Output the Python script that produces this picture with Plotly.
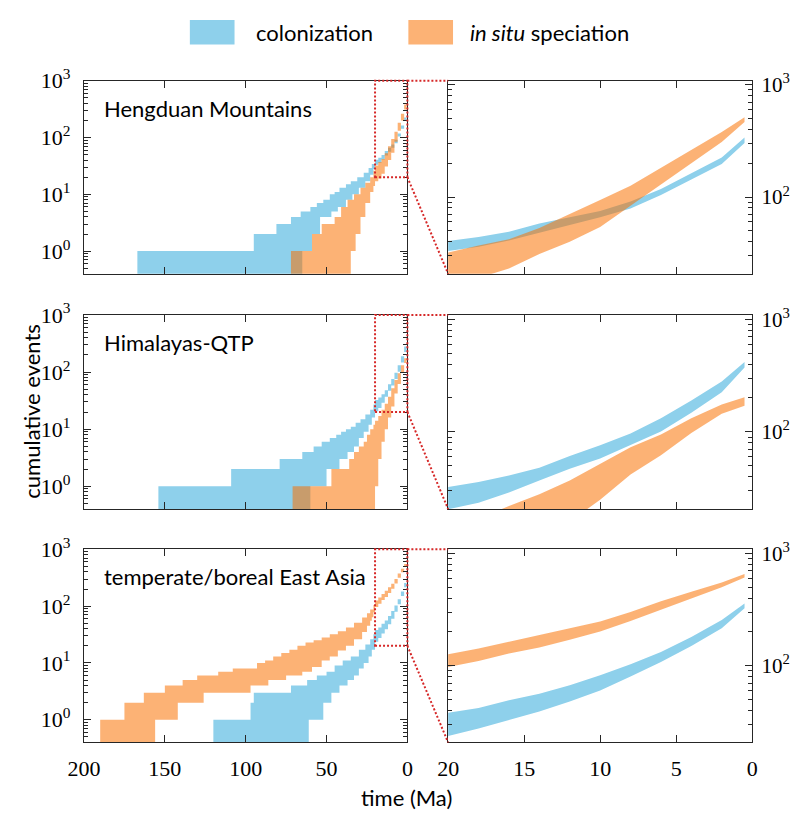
import math
import plotly.graph_objs as go

# cumulative event counts (lower / upper edge of each band), time in Ma
# 0 = no event yet
HD_COL_LO_T = [200, 65, 59, 54, 47, 43, 38, 34, 30, 26, 23, 21, 20, 18, 16, 14, 12, 10, 8, 6, 4, 2, 0.5]
HD_COL_LO_N = [0, 1, 2, 4, 5, 6, 8, 10, 13, 17, 22, 28, 33, 36, 41, 48, 56, 66, 79, 104, 143, 197, 303]
HD_COL_HI_T = [200, 167, 95, 81, 72, 66, 60, 56, 52, 48, 45, 42, 38, 35, 31, 27, 24, 22, 20, 18, 16, 14, 12, 10, 8, 6, 4, 2, 0.5]
HD_COL_HI_N = [0, 1, 2, 3, 4, 5, 6, 7, 8, 10, 11, 13, 15, 17, 20, 24, 29, 34, 40.5, 44, 49, 58, 66, 75, 91, 118, 163, 225, 340]
HD_SP_LO_T = [200, 35, 32, 29, 26, 23, 21, 20, 18, 16, 14, 12, 10, 8, 6, 4, 2, 0.5]
HD_SP_LO_N = [0, 1, 2, 4, 7, 11, 14, 17, 19, 23, 31, 40, 54, 84, 131, 200, 310, 467]
HD_SP_HI_T = [200, 72, 59, 53, 45, 41, 37, 33, 29, 26, 23, 21, 20, 18, 16, 14, 12, 10, 8, 6, 4, 2, 0.5]
HD_SP_HI_N = [0, 1, 2, 3, 4, 6, 8, 10, 13, 16, 20, 26, 32, 37, 42, 53, 70, 94, 126, 182, 262, 380, 515]

HQ_COL_LO_T = [200, 60, 50, 42, 37, 33, 30, 27, 24, 22, 20, 18, 16, 14, 12, 10, 8, 6, 4, 2, 0.5]
HQ_COL_LO_N = [0, 1, 2, 3, 4, 5, 7, 9, 12, 16, 20.6, 23.5, 29, 37, 47, 58, 76, 101, 148, 225, 372]
HQ_COL_HI_T = [200, 154, 109, 79, 65, 58, 53, 48, 44, 41, 38, 35, 32, 29, 26, 23, 21, 20, 18, 16, 14, 12, 10, 8, 6, 4, 2, 0.5]
HQ_COL_HI_N = [0, 1, 2, 3, 4, 5, 6, 7, 8, 9, 10, 11, 13, 15, 18, 22, 27, 32.5, 36, 41, 48, 61, 76, 97, 132, 190, 280, 417]
HQ_SP_LO_T = [200, 20, 18, 16, 14, 12, 10, 8, 6, 4, 2, 0.5]
HQ_SP_LO_N = [0, 1, 3, 6, 10, 16, 25, 42, 62, 98, 145, 171]
HQ_SP_HI_T = [200, 71, 47, 36, 33, 30, 27, 25, 23, 21, 20, 18, 16, 14, 12, 10, 8, 6, 4, 2, 0.5]
HQ_SP_HI_N = [0, 1, 2, 3, 4, 5, 6, 8, 10, 12, 14, 17, 22, 28, 37, 52, 73, 95, 132, 175, 203]

TB_COL_LO_T = [200, 61, 52, 47, 42, 37, 33, 30, 27, 24, 22, 20, 18, 16, 14, 12, 10, 8, 6, 4, 2, 0.5]
TB_COL_LO_N = [0, 1, 2, 3, 4, 5, 6, 8, 10, 13, 17, 23.6, 27.5, 33, 39, 48, 60, 80, 108, 150, 215, 324]
TB_COL_HI_T = [200, 120, 97, 95, 72, 62, 56, 50, 45, 40, 35, 30, 26, 23, 21, 20, 18, 16, 14, 12, 10, 8, 6, 4, 2, 0.5]
TB_COL_HI_N = [0, 1, 2, 3, 4, 5, 6, 7, 9, 11, 13, 17, 21, 26, 32, 38, 42, 49, 56, 67, 82, 103, 132, 180, 255, 358]
TB_SP_LO_T = [200, 156, 142, 126, 97, 86, 75, 65, 59, 53, 48, 43, 38, 33, 28, 25, 23, 22, 21, 20, 18, 16, 14, 12, 10, 8, 6, 4, 2, 0.5]
TB_SP_LO_N = [0, 1, 2, 3, 4, 5, 6, 7, 8.5, 11, 13, 16.6, 20, 26, 35, 45, 55, 64, 78, 97, 110, 128, 145, 170, 202, 250, 315, 395, 500, 612]
TB_SP_HI_T = [200, 190, 175, 163, 150, 139, 130, 117, 108, 93, 88, 83, 78, 73, 68, 63, 58, 53, 48, 43, 38, 33, 28, 25, 23, 21, 20, 18, 16, 14, 12, 10, 8, 6, 4, 2, 0.5]
TB_SP_HI_N = [0, 1, 2, 3, 4, 5, 6, 7, 8, 10, 11, 13, 15, 17, 20, 23, 25, 28, 32, 36, 42, 51, 63, 75, 87, 105, 126, 142, 163, 187, 215, 248, 300, 375, 455, 550, 655]

REGIONS = ['Hengduan Mountains', 'Himalayas-QTP', 'temperate/boreal East Asia']
SERIES = ['colonization', 'in situ speciation']

BLUE = 'rgb(142,208,235)'
ORANGE = 'rgba(249,112,0,0.54)'
RED = 'rgb(214,40,40)'
SPINE = '#262626'

W, H = 796, 815
COL_X = [(69, 402), (444, 757)]
ROW_Y = [(66, 263), (305, 503), (544, 741)]
XR = [[200, 0], [20, 0]]
YR = [[-0.4, 3.0], [1.315, 3.037]]
FLOOR = 0.01

bands = [
    [(HD_COL_LO_T, HD_COL_LO_N, HD_COL_HI_T, HD_COL_HI_N, BLUE),
     (HD_SP_LO_T, HD_SP_LO_N, HD_SP_HI_T, HD_SP_HI_N, ORANGE)],
    [(HQ_COL_LO_T, HQ_COL_LO_N, HQ_COL_HI_T, HQ_COL_HI_N, BLUE),
     (HQ_SP_LO_T, HQ_SP_LO_N, HQ_SP_HI_T, HQ_SP_HI_N, ORANGE)],
    [(TB_COL_LO_T, TB_COL_LO_N, TB_COL_HI_T, TB_COL_HI_N, BLUE),
     (TB_SP_LO_T, TB_SP_LO_N, TB_SP_HI_T, TB_SP_HI_N, ORANGE)],
]


def nz(vals):
    return [v if v > 0 else FLOOR for v in vals]


def to_paper(c, r, t, v):
    x0, x1 = COL_X[c]
    px = x0 + (t - XR[c][0]) / (XR[c][1] - XR[c][0]) * (x1 - x0)
    y0, y1 = ROW_Y[r]
    py = y1 - (math.log10(v) - YR[c][0]) / (YR[c][1] - YR[c][0]) * (y1 - y0)
    return px / W, 1 - py / H


fig = go.Figure()
tfont = dict(family='Liberation Serif', size=22, color='black')
rfont = dict(family='Liberation Serif', size=21, color='black')
minor_left = [k * 10 ** e for e in (-1, 0, 1, 2) for k in range(2, 10)]
minor_right = [k * 10 ** e for e in (1, 2) for k in range(2, 10)]
layout = dict(
    width=W, height=H,
    margin=dict(l=0, r=0, t=0, b=0),
    plot_bgcolor='white', paper_bgcolor='white',
    showlegend=False,
    font=dict(family='Lato', size=22, color='black'),
)
shapes = []
annotations = []

for r in range(3):
    for c in range(2):
        k = r * 2 + c + 1
        sx = '' if k == 1 else str(k)
        xa = dict(
            domain=[COL_X[c][0] / W, COL_X[c][1] / W], anchor='y' + sx,
            range=XR[c], showgrid=False, zeroline=False,
            showline=True, linecolor=SPINE, linewidth=1.3, mirror='allticks',
            ticks='inside', ticklen=7, tickwidth=1.2, tickcolor=SPINE,
            tickvals=[0, 50, 100, 150, 200] if c == 0 else [0, 5, 10, 15, 20],
            showticklabels=(r == 2), tickfont=tfont, ticklabelstandoff=6,
        )
        ya = dict(
            domain=[1 - ROW_Y[r][1] / H, 1 - ROW_Y[r][0] / H], anchor='x' + sx,
            type='log', range=YR[c], showgrid=False, zeroline=False,
            showline=True, linecolor=SPINE, linewidth=1.3, mirror='allticks',
            ticks='inside', ticklen=7, tickwidth=1.2, tickcolor=SPINE,
            side='left' if c == 0 else 'right',
            tickfont=tfont if c == 0 else rfont,
            ticklabelstandoff=8 if c == 0 else 4,
            minor=dict(ticks='inside', ticklen=4, tickwidth=1, tickcolor=SPINE,
                       tickvals=minor_left if c == 0 else minor_right, showgrid=False),
        )
        if c == 0:
            ya['tickvals'] = [1, 10, 100, 1000]
            ya['ticktext'] = ['10<sup>0</sup>', '10<sup>1</sup>', '10<sup>2</sup>', '10<sup>3</sup>']
        else:
            ya['tickvals'] = [100, 1000]
            ya['ticktext'] = ['10<sup>2</sup>', '10<sup>3</sup>']
        layout['xaxis' + sx] = xa
        layout['yaxis' + sx] = ya

        for lo_t, lo_n, hi_t, hi_n, col in bands[r]:
            shape = 'hv' if c == 0 else 'linear'
            fig.add_trace(go.Scatter(x=lo_t, y=nz(lo_n), mode='lines',
                                     line=dict(width=0, shape=shape),
                                     xaxis='x' + sx, yaxis='y' + sx, hoverinfo='skip'))
            fig.add_trace(go.Scatter(x=hi_t, y=nz(hi_n), mode='lines', fill='tonexty',
                                     fillcolor=col, line=dict(width=0, shape=shape),
                                     xaxis='x' + sx, yaxis='y' + sx, hoverinfo='skip'))

    # zoom box and connectors
    dot = dict(color=RED, width=2, dash='2px,2px')
    bx0, by0 = to_paper(0, r, 20, 20)
    bx1, by1 = to_paper(0, r, 0, 1000)
    shapes.append(dict(type='rect', xref='paper', yref='paper',
                       x0=bx0, y0=by0, x1=bx1, y1=by1, line=dot))
    rx, ry_top = to_paper(1, r, 20, 10 ** YR[1][1])
    _, ry_bot = to_paper(1, r, 20, 10 ** YR[1][0])
    shapes.append(dict(type='line', xref='paper', yref='paper',
                       x0=bx1, y0=by1, x1=rx, y1=ry_top, line=dot))
    shapes.append(dict(type='line', xref='paper', yref='paper',
                       x0=bx1, y0=by0, x1=rx, y1=ry_bot, line=dot))

    annotations.append(dict(text=REGIONS[r], xref='paper', yref='paper',
                            x=88 / W, y=1 - (ROW_Y[r][0] + 28) / H,
                            xanchor='left', yanchor='middle', showarrow=False,
                            font=dict(family='Lato', size=22)))

# legend drawn by hand (big patches)
shapes.append(dict(type='rect', xref='paper', yref='paper', x0=178 / W, x1=224 / W,
                   y0=1 - 29 / H, y1=1 - 4 / H, fillcolor=BLUE, line=dict(width=0)))
shapes.append(dict(type='rect', xref='paper', yref='paper', x0=403 / W, x1=449 / W,
                   y0=1 - 29 / H, y1=1 - 4 / H, fillcolor=ORANGE, line=dict(width=0)))
annotations.append(dict(text=SERIES[0], xref='paper', yref='paper', x=244 / W, y=1 - 17 / H,
                        xanchor='left', yanchor='middle', showarrow=False))
annotations.append(dict(text='<i>in situ</i> speciation', xref='paper', yref='paper',
                        x=464 / W, y=1 - 17 / H, xanchor='left', yanchor='middle', showarrow=False))
annotations.append(dict(text='cumulative events', xref='paper', yref='paper',
                        x=14 / W, y=1 - 403 / H, textangle=-90,
                        xanchor='center', yanchor='middle', showarrow=False))
annotations.append(dict(text='time (Ma)', xref='paper', yref='paper',
                        x=401 / W, y=1 - 797 / H,
                        xanchor='center', yanchor='middle', showarrow=False))

layout['shapes'] = shapes
layout['annotations'] = annotations
fig.update_layout(**layout)
# drop the default page margin so the figure sits at the top-left corner
fig.write_html('out.html', config={'displayModeBar': False},
               post_script="document.body.style.margin='0';document.body.style.overflow='hidden';")
